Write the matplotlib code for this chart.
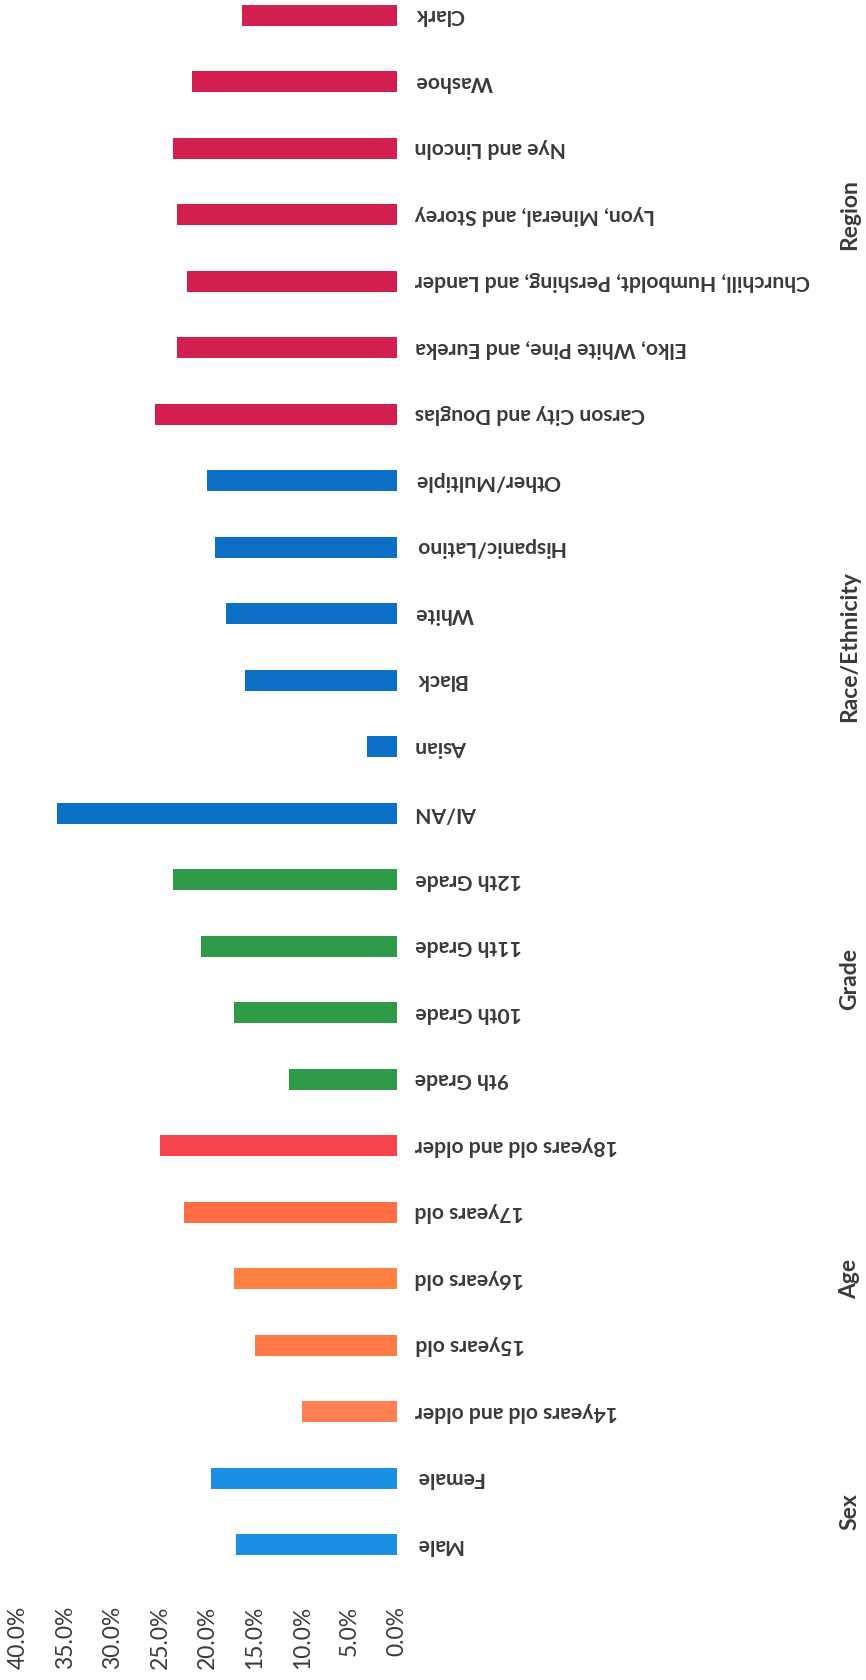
import numpy as np
import matplotlib
matplotlib.use('Agg')
import matplotlib.pyplot as plt
import matplotlib.transforms as mtransforms

plt.rcParams['font.family'] = ['Lato', 'DejaVu Sans']

# bottom (Male) to top (Clark)
labels = ["Male", "Female",
          "14years old and older", "15years old", "16years old", "17years old", "18years old and older",
          "9th Grade", "10th Grade", "11th Grade", "12th Grade",
          "AI/AN", "Asian", "Black", "White", "Hispanic/Latino", "Other/Multiple",
          "Carson City and Douglas", "Elko, White Pine, and Eureka",
          "Churchill, Humboldt, Pershing, and Lander", "Lyon, Mineral, and Storey",
          "Nye and Lincoln", "Washoe", "Clark"]
values = [17.0, 19.6,
          10.0, 15.0, 17.2, 22.5, 25.0,
          11.4, 17.2, 20.7, 23.6,
          35.9, 3.2, 16.0, 18.1, 19.2, 20.1,
          25.5, 23.2, 22.2, 23.2, 23.6, 21.6, 16.4]
colors = ["#1a8fe3", "#1a8fe3",
          "#ff7f55", "#ff7a48", "#ff8040", "#ff6e45", "#f5434d",
          "#2f9a47", "#2f9a47", "#2f9a47", "#2f9a47",
          "#0b6fc6", "#0b6fc6", "#0b6fc6", "#0b6fc6", "#0b6fc6", "#0b6fc6",
          "#d31f4f", "#d31f4f", "#d31f4f", "#d31f4f", "#d31f4f", "#d31f4f", "#d31f4f"]
groups = ["Sex", "Age", "Grade", "Race/Ethnicity", "Region"]
group_sizes = [2, 5, 4, 6, 7]
ticks = [0, 5, 10, 15, 20, 25, 30, 35, 40]
tick_labels = ["0.0%", "5.0%", "10.0%", "15.0%", "20.0%", "25.0%", "30.0%", "35.0%", "40.0%"]

W, H = 866, 1680
fig = plt.figure(figsize=(W / 100, H / 100), dpi=100)
ax = fig.add_axes([18 / W, 102 / H, 379 / W, 1596 / H])

y = np.arange(len(labels))
ax.barh(y, values, height=0.31, color=colors)
ax.set_xlim(40, 0)
ax.set_ylim(-0.5, len(labels) - 0.5)

ax.set_xticks(ticks)
ax.set_xticklabels(tick_labels, rotation=90, fontsize=16.5, color="#3a3a3a")
ax.tick_params(axis='x', length=0, pad=20)
ax.set_yticks([])
for s in ax.spines.values():
    s.set_visible(False)

trans = mtransforms.blended_transform_factory(fig.transFigure, ax.transData)
for i, lab in enumerate(labels):
    ax.text(415 / W, i, lab, transform=trans, rotation=180, ha='left', va='center',
            fontsize=15.2, fontweight='bold', color="#3a3a3a", clip_on=False)

start = 0
for g, n in zip(groups, group_sizes):
    c = start + (n - 1) / 2
    ax.text(850 / W, c, g, transform=trans, rotation=90, ha='center', va='center',
            fontsize=16.5, fontweight='bold', color="#3a3a3a", clip_on=False)
    start += n

plt.savefig("out.png", dpi=100)
